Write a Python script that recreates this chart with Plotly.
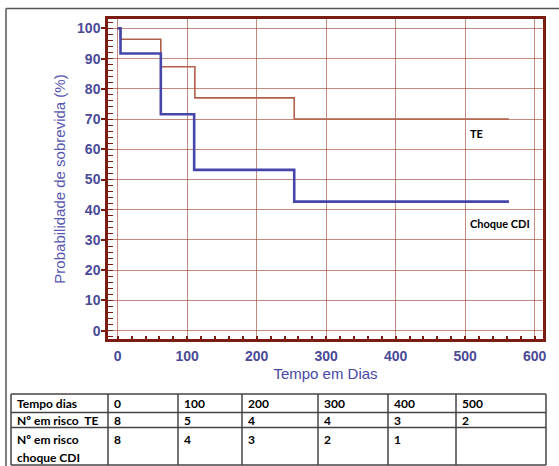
import plotly.graph_objects as go

# ---- data ----
te_days = [0, 4, 62, 111, 254, 563]
te_surv = [100, 96.4, 87.3, 77.0, 70.0, 70.0]
cdi_days = [0, 4, 62, 110, 254, 563]
cdi_surv = [100, 91.7, 71.6, 53.2, 42.7, 42.7]

table_header = ["Tempo dias", "0", "100", "200", "300", "400", "500"]
table_te = ["Nº em risco  TE", "8", "5", "4", "4", "3", "2"]
table_cdi = ["Nº em risco", "8", "4", "3", "2", "1", ""]
table_cdi_line2 = "choque CDI"

W, H = 559, 466
L, R, T, B = 108, 543, 19, 339  # plot area in pixels

def px(x):
    return (x - L) / (R - L)

def py(y):
    return (B - y) / (B - T)

frame_col = "#7a1c12"
grid_col = "rgba(160,60,40,0.6)"
tick_font_col = "#4a4a98"

fig = go.Figure()
fig.add_trace(go.Scatter(x=te_days, y=te_surv, mode="lines", line_shape="hv",
                         line=dict(color="#b0604a", width=1.6), name="TE", showlegend=False))
fig.add_trace(go.Scatter(x=cdi_days, y=cdi_surv, mode="lines", line_shape="hv",
                         line=dict(color="#4646aa", width=2.6), name="Choque CDI", showlegend=False))

fig.update_layout(
    width=W, height=H,
    margin=dict(l=L, r=W - R, t=T, b=H - B, pad=0),
    paper_bgcolor="white", plot_bgcolor="white",
    font=dict(family="Liberation Sans, Arial, sans-serif", color=tick_font_col),
    xaxis=dict(range=[-14, 612], tickvals=[0, 100, 200, 300, 400, 500, 600],
               ticktext=["<b>%d</b>" % v for v in [0, 100, 200, 300, 400, 500, 600]],
               showgrid=True, gridcolor=grid_col, gridwidth=1.2, zeroline=False,
               showline=True, linecolor=frame_col, linewidth=2.5, mirror=True,
               ticks="", tickfont=dict(size=14, color=tick_font_col),
               ticklabelstandoff=2,
               minor=dict(dtick=20, tick0=0, ticks="inside", ticklen=3,
                          tickcolor=frame_col, tickwidth=1.5, showgrid=False),
               title=dict(text="Tempo em Dias", font=dict(size=15, color="#4848a4"),
                          standoff=6)),
    yaxis=dict(range=[-2.75, 103.1], tickvals=list(range(0, 101, 10)),
               ticktext=["<b>%d</b>" % v for v in range(0, 101, 10)],
               showgrid=True, gridcolor=grid_col, gridwidth=1.2, zeroline=False,
               showline=True, linecolor=frame_col, linewidth=2.5, mirror=True,
               ticks="outside", ticklen=4, tickcolor=frame_col, tickwidth=2,
               tickfont=dict(size=14, color=tick_font_col),
               ticklabelstandoff=-2,
               minor=dict(dtick=2, tick0=0, ticks="inside", ticklen=5,
                          tickcolor=frame_col, tickwidth=1.2, showgrid=False),
               title=dict(text="Probabilidade de sobrevida (%)",
                          font=dict(size=15, color="#5858b0"), standoff=8)),
)

# curve labels
fig.add_annotation(x=517, y=65.2, text="<b>TE</b>", showarrow=False,
                   font=dict(family="Lato, Liberation Sans, sans-serif", size=11, color="black"))
fig.add_annotation(x=550, y=35.6, text="<b>Choque CDI</b>", showarrow=False,
                   font=dict(family="Lato, Liberation Sans, sans-serif", size=11, color="black"))

shapes = []
# outer frame (top and left)
shapes.append(dict(type="line", xref="paper", yref="paper", x0=px(6), x1=px(W + 2),
                   y0=py(8.5), y1=py(8.5), line=dict(color="#555555", width=1.5)))
shapes.append(dict(type="line", xref="paper", yref="paper", x0=px(6), x1=px(6),
                   y0=py(8.5), y1=py(H + 2), line=dict(color="#555555", width=1.5)))

# table grid
col_edges = [11, 108, 178, 242, 318, 388, 456, 546]
row_edges = [394, 412.5, 427.5, 465]
for cx in col_edges:
    shapes.append(dict(type="line", xref="paper", yref="paper", x0=px(cx), x1=px(cx),
                       y0=py(row_edges[0]), y1=py(row_edges[-1]),
                       line=dict(color="#444444", width=1.5)))
for ry in row_edges:
    shapes.append(dict(type="line", xref="paper", yref="paper", x0=px(col_edges[0]),
                       x1=px(col_edges[-1]), y0=py(ry), y1=py(ry),
                       line=dict(color="#444444", width=1.5)))
fig.update_layout(shapes=shapes)

tfont = dict(family="Lato, Liberation Sans, sans-serif", size=12, color="black")
row_text_y = [403, 420, 439]
for r, row in enumerate([table_header, table_te, table_cdi]):
    for c, txt in enumerate(row):
        if not txt:
            continue
        fig.add_annotation(xref="paper", yref="paper", x=px(col_edges[c] + 5),
                           y=py(row_text_y[r]), xanchor="left", yanchor="middle",
                           text="<b>" + txt + "</b>", showarrow=False, align="left",
                           font=tfont, borderpad=0)
fig.add_annotation(xref="paper", yref="paper", x=px(col_edges[0] + 5), y=py(457),
                   xanchor="left", yanchor="middle", text="<b>" + table_cdi_line2 + "</b>",
                   showarrow=False, font=tfont, borderpad=0)

fig.write_html("out.html", config={"displayModeBar": False},
               post_script="document.body.style.margin='0';")
